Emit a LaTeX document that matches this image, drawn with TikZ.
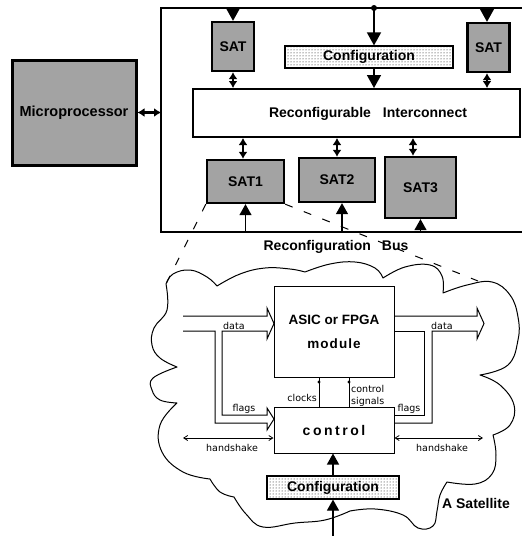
\documentclass[tikz,border=0pt]{standalone}
\usepackage{fontspec}
\setmainfont{Liberation Sans}
\newfontfamily\labelfont{DejaVu Sans}
\usetikzlibrary{arrows.meta,patterns}

\begin{document}
\begin{tikzpicture}[x=1pt,y=-1pt,
  boldtxt/.style={font=\bfseries\fontsize{14}{16}\selectfont},
  densebox/.style={draw, line width=2.3pt, fill=black!36, inner sep=0pt, boldtxt},
  confbox/.style={draw, line width=1.2pt, pattern=dots, inner sep=0pt, boldtxt},
  plainbox/.style={draw, line width=2pt, fill=white, inner sep=0pt},
  thinbox/.style={draw, line width=1pt, inner sep=0pt, boldtxt},
  lbl/.style={font=\labelfont\fontsize{9.5}{11.5}\selectfont, inner sep=1pt},
  bigtip/.style={-{Triangle[width=14pt,length=13pt]}, line width=1.5pt},
  midtip/.style={-{Triangle[width=12pt,length=11pt]}, line width=1.2pt},
  dbl/.style={{Latex[width=9pt,length=7pt]}-{Latex[width=9pt,length=7pt]}, line width=2.2pt},
  hs/.style={{Straight Barb[width=5pt,length=4pt]}-{Straight Barb[width=5pt,length=4pt]}, line width=0.8pt},
  tubeline/.style={line width=1pt, line join=miter},
  zoomline/.style={dash pattern=on 8pt off 12pt, line width=1pt},
  cloudline/.style={line width=1pt, line join=round}
]
\useasboundingbox (0,0) rectangle (522,536);

% ---------- chip ----------
\coordinate (topL) at (161,8);
\coordinate (topR) at (522,8);
\coordinate (busL) at (161,232);
\coordinate (busR) at (522,232);
\coordinate (jn) at (374,8);
\draw[line width=2.2pt, line join=miter] (topR) -- (topL) -- (busL) -- (busR);

\node[densebox, line width=3pt, minimum width=124pt, minimum height=105pt,
      font=\bfseries\fontsize{14.5}{16}\selectfont] (micro) at (74,112.5) {Microprocessor};

\node[densebox, minimum width=42pt, minimum height=49pt] (satA) at (233,46.5) {SAT};
\node[densebox, minimum width=42pt, minimum height=49pt] (satB) at (488.5,47.5) {SAT};
\node[confbox, minimum width=168pt, minimum height=22pt] (confTop) at (369,57) {Configuration};
\node[plainbox, minimum width=327pt, minimum height=48pt] (ic) at (356.5,113) {};
\node[boldtxt, inner sep=0pt] (ictext) at (368,114) {Reconfigurable\hspace{12pt}Interconnect};

\node[densebox, minimum width=77pt, minimum height=43pt] (sat1) at (245.5,181.5) {SAT1};
\node[densebox, minimum width=76pt, minimum height=44pt] (sat2) at (337,180) {SAT2};
\node[densebox, minimum width=71pt, minimum height=61pt] (sat3) at (420.5,187.5) {SAT3};

\node[boldtxt, inner sep=0pt] (bustext) at (336,247) {Reconfiguration\hspace{11pt}Bus};

% feeds from the top line
\fill (jn) circle (3pt);
\coordinate (sbN) at ([xshift=-1.5pt]satB.north);
\coordinate (sbS) at ([xshift=-1.5pt]satB.south);
\draw[bigtip] (satA.north |- topL) -- (satA.north);
\draw[bigtip] (sbN |- topL) -- (sbN);
\draw[bigtip] (jn) -- (jn |- confTop.north);
\draw[bigtip] (jn |- confTop.south) -- (jn |- ic.north);

% links to the interconnect
\draw[dbl] (satA.south) -- (satA.south |- ic.north);
\draw[dbl] (sbS) -- (sbS |- ic.north);
\draw[dbl] (micro.east) -- (micro.east -| topL);
\coordinate (s1n) at ([xshift=-2.5pt]sat1.north);
\coordinate (s3n) at ([xshift=-7.5pt]sat3.north);
\draw[dbl] (s1n |- ic.south) -- (s1n);
\draw[dbl] (sat2.north |- ic.south) -- (sat2.north);
\draw[dbl] (s3n |- ic.south) -- (s3n);

% reconfiguration bus feeds
\coordinate (s2s) at ([xshift=5pt]sat2.south);
\draw[midtip] (sat1.south |- busL) -- (sat1.south);
\draw[midtip] (s2s |- busL) -- (s2s);
\draw[midtip] (sat3.south |- busL) -- (sat3.south);

% ---------- satellite detail ----------
\coordinate (cl1) at (166,284);
\coordinate (cl2) at (478,281);
\draw[zoomline] (sat1.south west) -- (cl1);
\draw[zoomline] (sat1.south east) -- (cl2);

\draw[cloudline]
  plot[smooth,tension=0.7] coordinates {(166,284) (173,274) (190,270) (207,277) (217,286)}
  -- plot[smooth,tension=0.7] coordinates {(217,286) (240,274) (265,268) (290,269) (305,272)}
  -- plot[smooth,tension=0.7] coordinates {(305,272) (330,264) (355,262) (375,268) (383,278)}
  -- plot[smooth,tension=0.7] coordinates {(383,278) (405,267) (430,265) (442,276) (443,293)}
  -- plot[smooth,tension=0.7] coordinates {(443,293) (467,285) (492,282) (510,295) (518,317) (518,340) (508,365) (480,375)}
  -- plot[smooth,tension=0.7] coordinates {(480,375) (500,385) (514,405) (510,425) (493,435)}
  -- plot[smooth,tension=0.7] coordinates {(493,435) (496,455) (492,474) (475,484) (447,482)}
  -- plot[smooth,tension=0.7] coordinates {(447,482) (440,495) (437,511) (433,526) (418,528) (403,515) (375,509) (350,511)}
  -- plot[smooth,tension=0.7] coordinates {(350,511) (325,520) (295,523) (263,527) (246,514) (234,497)}
  -- plot[smooth,tension=0.7] coordinates {(234,497) (220,492) (210,479)}
  -- plot[smooth,tension=0.7] coordinates {(210,479) (183,472) (162,452) (160,425) (177,403)}
  -- plot[smooth,tension=0.7] coordinates {(177,403) (160,400) (152,390) (153,378) (177,367)}
  -- plot[smooth,tension=0.7] coordinates {(177,367) (160,358) (152,345) (154,328) (167,310) (166,284)};

\node[thinbox, minimum width=120pt, minimum height=91pt, align=center,
      font=\bfseries\fontsize{13.5}{24}\selectfont] (asic) at (334,331.5)
      {ASIC or FPGA\\{\addfontfeature{LetterSpace=8}module}};
\node[thinbox, minimum width=120pt, minimum height=46pt] (ctrl) at (334,430)
      {\addfontfeature{LetterSpace=18}control};
\node[confbox, minimum width=132pt, minimum height=23pt] (confBot) at (333,487.5) {Configuration};
\node[boldtxt, inner sep=0pt] (sattext) at (476,503) {A Satellite};

% data / flags paths
\draw[tubeline] (183,316) -- (267,316) -- (267,308) -- (274,323.5) -- (267,339) -- (267,331)
  -- (222,331) -- (222,415) -- (267,415) -- (267,408) -- (274,419) -- (267,430) -- (267,423)
  -- (215,423) -- (215,331) -- (183,331);
\draw[tubeline] (394,316) -- (477,316) -- (477,308) -- (484,323.5) -- (477,339) -- (477,331)
  -- (432,331) -- (432,423) -- (394,423);
\draw[tubeline] (394,331) -- (424,331) -- (424,415) -- (394,415);

\node[lbl, anchor=south west] (dataL) at (222,331) {data};
\node[lbl, anchor=south west] (dataR) at (430,331) {data};
\node[lbl, anchor=south] (flagsL) at (244,415) {flags};
\node[lbl, anchor=south] (flagsR) at (409,415) {flags};

% clocks and control signals
\coordinate (clk) at (319,382);
\coordinate (sig) at (349,382);
\draw[line width=1pt] (clk |- ctrl.north) -- (clk |- asic.south);
\draw[line width=1pt] (sig |- ctrl.north) -- (sig |- asic.south);
\fill (clk) circle (1.6pt);
\fill (sig) circle (1.6pt);
\node[lbl, anchor=east] (clklbl) at (318,398) {clocks};
\node[lbl, anchor=west, align=left] (siglbl) at (350,396) {control\\signals};

% handshake
\coordinate (hsL) at (183,438);
\coordinate (hsR) at (483,438);
\draw[hs] (hsL) -- (hsL -| ctrl.west);
\draw[hs] (hsR -| ctrl.east) -- (hsR);
\node[lbl, anchor=north] (hsLlbl) at (232,443) {handshake};
\node[lbl, anchor=north] (hsRlbl) at (442,443) {handshake};

% configuration feed
\coordinate (feed) at (333,536);
\draw[midtip] (feed) -- (feed |- confBot.south);
\draw[midtip] (feed |- confBot.north) -- (feed |- ctrl.south);
\end{tikzpicture}
\end{document}
